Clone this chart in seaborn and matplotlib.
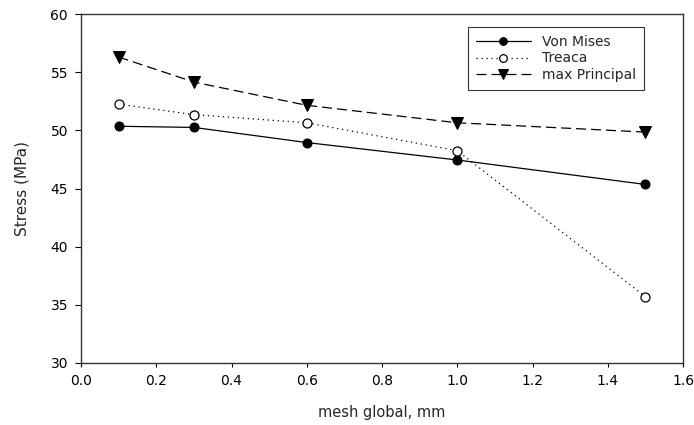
import matplotlib
matplotlib.use("Agg")
import matplotlib.pyplot as plt
import seaborn as sns

# === DATA ===
mesh = [0.1, 0.3, 0.6, 1.0, 1.5]
von_mises = [50.35, 50.25, 48.95, 47.45, 45.35]
treaca = [52.25, 51.35, 50.65, 48.25, 35.7]
max_principal = [56.3, 54.15, 52.15, 50.65, 49.85]

sns.set_style("ticks")
plt.rcParams['font.family'] = ['DejaVu Sans']

fig = plt.figure(figsize=(6.94, 4.25), dpi=100)
ax = fig.add_axes([81 / 694, 1 - 363 / 425, (683 - 81) / 694, (363 - 14) / 425])

sns.lineplot(x=mesh, y=von_mises, ax=ax, color='black', lw=0.9, linestyle='-',
             marker='o', markersize=6.5, markerfacecolor='black', markeredgecolor='black',
             label='Von Mises')
sns.lineplot(x=mesh, y=treaca, ax=ax, color='black', lw=0.9, linestyle=(0, (1, 3)),
             marker='o', markersize=6.5, markerfacecolor='white', markeredgecolor='black',
             markeredgewidth=0.9, label='Treaca')
sns.lineplot(x=mesh, y=max_principal, ax=ax, color='black', lw=0.9, linestyle=(0, (8, 4)),
             marker='v', markersize=8, markerfacecolor='black', markeredgecolor='black',
             label='max Principal')

ax.set_xlim(0, 1.6)
ax.set_ylim(30, 60)
ax.set_xticks([0.0, 0.2, 0.4, 0.6, 0.8, 1.0, 1.2, 1.4, 1.6])
ax.set_yticks([30, 35, 40, 45, 50, 55, 60])
ax.set_xticklabels([f"{v:.1f}" for v in ax.get_xticks()])
ax.tick_params(axis='x', direction='out', length=3, width=0.8, labelsize=10, colors='black',
               pad=5, top=False)
ax.tick_params(axis='y', direction='out', length=4.3, width=0.8, labelsize=10, colors='black',
               pad=5, right=False)
for s in ax.spines.values():
    s.set_color('#333333')
    s.set_linewidth(1.0)

ax.set_xlabel("mesh global, mm", fontsize=10.5, labelpad=12)
ax.set_ylabel("Stress (MPa)", fontsize=11, labelpad=15)

# legend box top-right corner at about (644, 27) px
anchor = ((644 - 81) / (683 - 81), 1 - (27 - 14) / (363 - 14))
leg = ax.legend(loc='upper right', bbox_to_anchor=anchor, bbox_transform=ax.transAxes,
                fontsize=10, numpoints=1, handlelength=4.0, fancybox=False, frameon=True,
                borderpad=0.55, labelspacing=0.2, handletextpad=0.8, borderaxespad=0,
                markerscale=0.85)
leg.get_frame().set_edgecolor('black')
leg.get_frame().set_linewidth(0.8)

fig.savefig("out.png", dpi=100)
